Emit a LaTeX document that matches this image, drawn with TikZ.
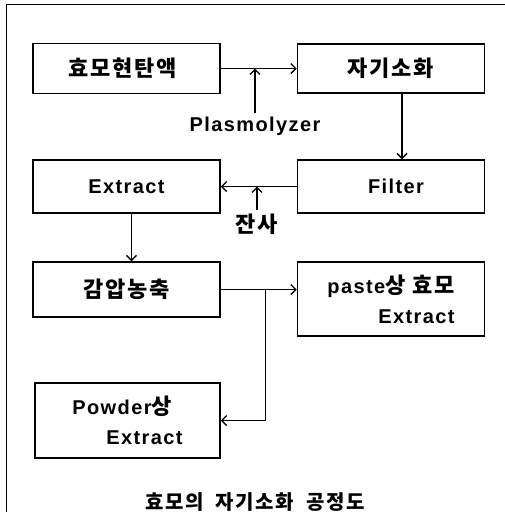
\documentclass[tikz,border=0pt]{standalone}
\usepackage{fontspec}
\setmainfont{Liberation Sans}[LetterSpace=7]
\newfontfamily\korfont{Noto Sans CJK KR}[LetterSpace=8]
\newcommand{\ko}[1]{{\korfont\fontsize{22}{30}\selectfont #1}}
\usetikzlibrary{arrows.meta}

\begin{document}
\begin{tikzpicture}[
  x=1pt, y=-1pt,
  stepbox/.style={draw, line width=1.5pt, minimum width=187pt, inner sep=0pt,
    font=\bfseries\fontsize{20}{30}\selectfont, align=center},
  note/.style={font=\bfseries\fontsize{20}{24}\selectfont, inner sep=3pt},
  caption/.style={font=\korfont\bfseries\fontsize{20}{24}\selectfont},
  flow/.style={-{Straight Barb[length=5pt,width=10pt]}, line width=1.4pt},
  frame/.style={line width=0.8pt}
]
\useasboundingbox (0,0) rectangle (505,523);

% Column anchors: centre of the left and right box columns.
\def\leftCol{126.5}
\def\rightCol{391}

% -----------------------------------------------------------------------------
% Frame of the scanned figure (top and left edge only).
% -----------------------------------------------------------------------------
\draw[frame] (505,4) -- (6,4) -- (6,512);

% -----------------------------------------------------------------------------
% Row 1: suspension and autolysis.
% -----------------------------------------------------------------------------
\node[stepbox, minimum height=50pt] (suspension) at (\leftCol,68.5) {\ko{효모현탄액}\hspace{8pt}};
\node[stepbox, minimum height=49pt] (autolysis) at (\rightCol,68.5) {\ko{자기소화}};
\node[note] (plasmolyzer) at (255,126) {Plasmolyzer};
\coordinate (plasmolyzerIn) at (plasmolyzer.north |- suspension.east);

% -----------------------------------------------------------------------------
% Row 2: extract and filter.
% -----------------------------------------------------------------------------
\node[stepbox, minimum height=53pt] (extract) at (\leftCol,186.5) {Extract};
\node[stepbox, minimum height=53pt] (filter) at (\rightCol,186.5) {\hspace{10pt}Filter};
\node[note] (residue) at (257,224) {\ko{잔사}};
\coordinate (residueIn) at (residue.north |- filter.west);

% -----------------------------------------------------------------------------
% Row 3 and 4: concentration and the two products.
% -----------------------------------------------------------------------------
\node[stepbox, minimum height=55pt] (concentrate) at (\leftCol,289.5) {\ko{감압농축}};
\node[stepbox, minimum height=74pt, align=right] (paste) at (\rightCol,299)
  {paste\ko{상 효모}\\Extract};
\node[stepbox, minimum height=75pt, minimum width=185pt, align=left] (powder) at (127.5,420.5)
  {Powder\ko{상}\\\hspace*{34pt}Extract};

\node[caption] (title) at (255,502) {효모의\hspace{6pt} 자기소화\hspace{6pt} 공정도};

% -----------------------------------------------------------------------------
% Connectors.
% -----------------------------------------------------------------------------
\coordinate (concentrateOut) at (concentrate.east);
\coordinate (branch) at ([xshift=45pt]concentrate.east);

\draw[flow] (suspension.east) -- (autolysis.west);
\draw[flow] (plasmolyzer.north) -- (plasmolyzerIn);
\draw[flow] ([xshift=11pt]autolysis.south) -- ([xshift=11pt]filter.north);
\draw[flow] (filter.west) -- (extract.east);
\draw[flow] (residue.north) -- (residueIn);
\draw[flow] ([xshift=5pt]extract.south) -- ([xshift=5pt]concentrate.north);
\draw[flow] (concentrateOut) -- (paste.west |- concentrateOut);
\draw[flow] (branch) |- (powder.east);

\end{tikzpicture}
\end{document}
